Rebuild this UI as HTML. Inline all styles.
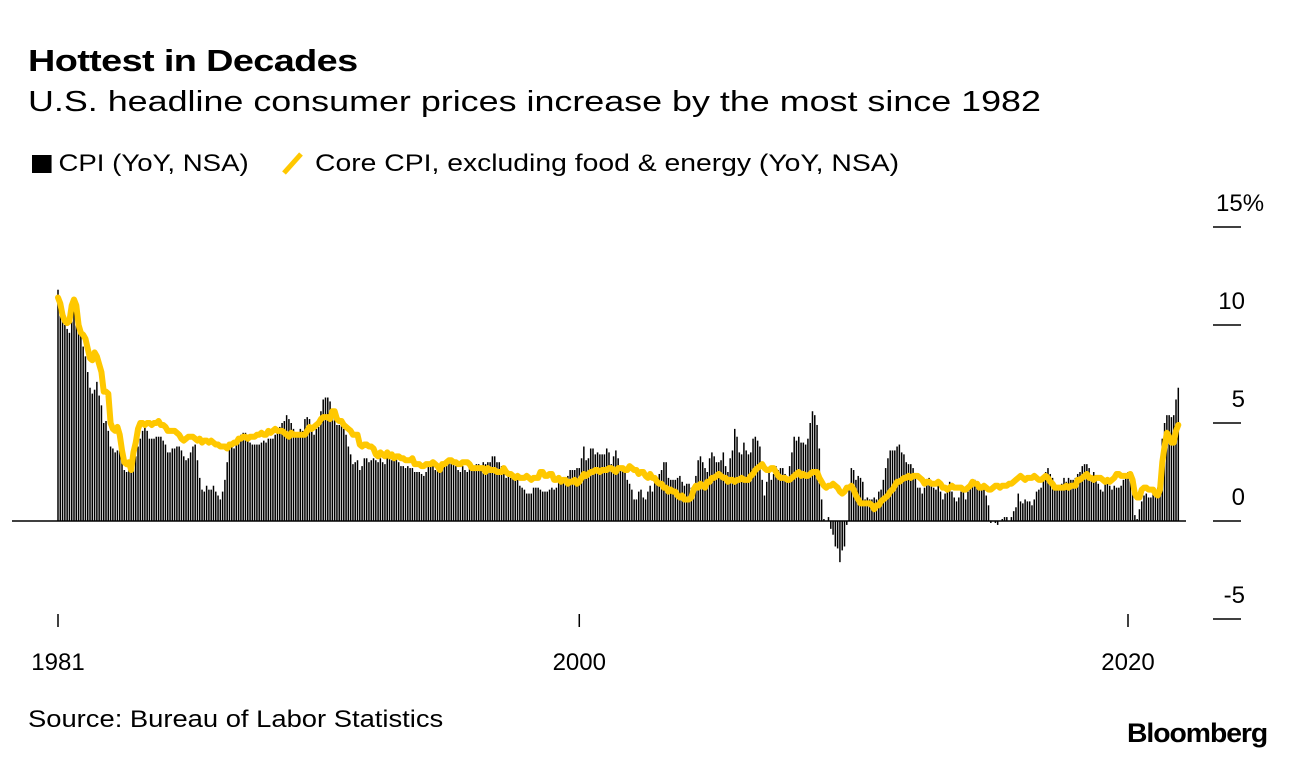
<!DOCTYPE html>
<html><head><meta charset="utf-8">
<style>
html,body{margin:0;padding:0;background:#fff;width:1296px;height:760px;overflow:hidden}
body{font-family:"Liberation Sans",Arial,sans-serif;color:#000;position:relative}
.t{position:absolute;white-space:nowrap;transform-origin:0 0}
</style></head>
<body>
<div class="t" style="left:28px;top:43px;font-size:31px;font-weight:bold;letter-spacing:-0.5px;transform:scaleX(1.22)">Hottest in Decades</div>
<div class="t" style="left:28px;top:86px;font-size:29px;transform:scaleX(1.237)">U.S. headline consumer prices increase by the most since 1982</div>
<div class="t" style="left:32px;top:150px;font-size:24px;transform:scaleX(1.15)"><span style="display:inline-block;width:17px;height:18px;background:#000;vertical-align:-2px;margin-right:6px"></span>CPI (YoY, NSA)</div>
<svg width="26" height="26" style="position:absolute;left:280px;top:150px"><line x1="4" y1="23" x2="21" y2="4" stroke="#ffc800" stroke-width="5"/></svg>
<div class="t" style="left:315px;top:150px;font-size:24px;transform:scaleX(1.18)">Core CPI, excluding food &amp; energy (YoY, NSA)</div>
<svg id="chart" width="1296" height="760" style="position:absolute;left:0;top:0"></svg>
<div class="t" style="left:28px;top:706px;font-size:24px;transform:scaleX(1.14)">Source: Bureau of Labor Statistics</div>
<div class="t" style="left:1127px;top:718px;font-size:27px;font-weight:bold;letter-spacing:-1px;transform:scaleX(1.05)">Bloomberg</div>
<script>
const startYear = 1981;
const cpiValues = [
11.8,11.4,10.5,10.0,9.8,9.6,10.8,10.8,11.0,10.1,9.6,8.9,
8.4,7.6,6.8,6.5,6.7,7.1,6.4,5.9,5.0,5.1,4.6,3.8,
3.7,3.5,3.6,3.9,3.5,2.6,2.5,2.6,2.9,2.9,3.3,3.8,
4.2,4.6,4.8,4.6,4.2,4.2,4.2,4.3,4.3,4.3,4.1,3.9,
3.5,3.5,3.7,3.7,3.8,3.8,3.6,3.3,3.1,3.2,3.5,3.8,
3.9,3.1,2.2,1.6,1.5,1.8,1.6,1.6,1.8,1.5,1.3,1.1,
1.5,2.1,3.0,3.8,3.9,3.7,3.9,4.3,4.4,4.5,4.5,4.4,
4.0,3.9,3.9,3.9,3.9,4.0,4.1,4.0,4.2,4.2,4.2,4.4,
4.7,4.8,5.0,5.1,5.4,5.2,5.0,4.7,4.3,4.5,4.7,4.6,
5.2,5.3,5.2,4.7,4.4,4.7,4.8,5.6,6.2,6.3,6.3,6.1,
5.7,5.3,4.9,4.9,5.0,4.7,4.4,3.8,3.4,2.9,3.0,3.1,
2.6,2.8,3.2,3.2,3.0,3.1,3.2,3.1,3.0,3.2,3.0,2.9,
3.3,3.2,3.1,3.2,3.2,3.0,2.8,2.8,2.7,2.8,2.7,2.7,
2.5,2.5,2.5,2.4,2.3,2.5,2.8,2.9,3.0,2.6,2.7,2.7,
2.8,2.9,2.9,3.1,3.2,3.0,2.8,2.6,2.5,2.8,2.6,2.5,
2.7,2.7,2.8,2.9,2.9,2.8,3.0,2.9,3.0,3.0,3.3,3.3,
3.0,3.0,2.8,2.5,2.2,2.3,2.2,2.2,2.2,2.1,1.8,1.7,
1.6,1.4,1.4,1.4,1.7,1.7,1.7,1.6,1.5,1.5,1.5,1.6,
1.7,1.6,1.7,2.3,2.1,2.0,2.1,2.3,2.6,2.6,2.6,2.7,
2.7,3.2,3.8,3.1,3.2,3.7,3.7,3.4,3.5,3.4,3.4,3.4,
3.7,3.5,2.9,3.3,3.6,3.2,2.7,2.7,2.6,2.1,1.9,1.6,
1.1,1.1,1.5,1.6,1.2,1.1,1.5,1.8,1.5,2.0,2.2,2.4,
2.6,3.0,3.0,2.2,2.1,2.1,2.1,2.2,2.3,2.0,1.8,1.9,
1.9,1.7,1.7,2.3,3.1,3.3,3.0,2.7,2.5,3.2,3.5,3.3,
3.0,3.0,3.1,3.5,2.8,2.5,3.2,3.6,4.7,4.3,3.5,3.4,
4.0,3.6,3.4,3.5,4.2,4.3,4.1,3.8,2.1,1.3,2.0,2.5,
2.1,2.4,2.8,2.6,2.7,2.7,2.4,2.0,2.8,3.5,4.3,4.1,
4.3,4.0,4.0,3.9,4.2,5.0,5.6,5.4,4.9,3.7,1.1,0.1,
0.0,0.2,-0.4,-0.7,-1.3,-1.4,-2.1,-1.5,-1.3,-0.2,1.8,2.7,
2.6,2.1,2.3,2.2,2.0,1.1,1.2,1.1,1.1,1.2,1.1,1.5,
1.6,2.1,2.7,3.2,3.6,3.6,3.6,3.8,3.9,3.5,3.4,3.0,
2.9,2.9,2.7,2.3,1.7,1.7,1.4,1.7,2.0,2.2,1.8,1.7,
1.6,2.0,1.5,1.1,1.4,1.8,2.0,1.5,1.2,1.0,1.2,1.5,
1.6,1.1,1.5,2.0,2.1,2.1,2.0,1.7,1.7,1.7,1.3,0.8,
-0.1,0.0,-0.1,-0.2,0.0,0.1,0.2,0.2,0.0,0.2,0.5,0.7,
1.4,1.0,0.9,1.1,1.0,1.0,0.8,1.1,1.5,1.6,1.7,2.1,
2.5,2.7,2.4,2.2,1.9,1.6,1.7,1.9,2.2,2.0,2.2,2.1,
2.1,2.2,2.4,2.5,2.8,2.9,2.9,2.7,2.3,2.5,2.2,1.9,
1.6,1.5,1.9,2.0,1.8,1.6,1.8,1.7,1.7,1.8,2.1,2.3,
2.5,2.3,1.5,0.3,0.1,0.6,1.0,1.3,1.4,1.2,1.2,1.4,
1.4,1.7,2.6,4.2,5.0,5.4,5.4,5.3,5.4,6.2,6.8];
const coreValues = [
11.4,11.1,10.5,10.2,10.1,10.2,11.0,11.3,11.0,10.0,9.6,9.5,
9.3,8.8,8.3,8.2,8.6,8.4,8.0,7.6,6.6,6.6,6.5,5.0,
4.7,4.6,4.8,4.4,3.6,3.0,2.9,3.0,2.6,3.5,4.0,4.7,
5.0,5.0,4.9,5.0,5.0,4.9,5.0,5.0,5.1,4.9,4.9,4.8,
4.6,4.6,4.6,4.6,4.5,4.4,4.2,4.1,4.2,4.3,4.3,4.3,
4.2,4.1,4.2,4.0,4.1,4.1,4.0,4.1,4.0,3.9,3.9,3.8,
3.8,3.8,3.7,3.9,3.9,4.0,4.0,4.2,4.2,4.3,4.3,4.2,
4.3,4.3,4.3,4.4,4.4,4.5,4.4,4.4,4.6,4.5,4.6,4.7,
4.6,4.6,4.6,4.5,4.4,4.3,4.5,4.4,4.4,4.4,4.4,4.4,
4.4,4.6,4.8,4.7,4.8,4.9,5.0,5.2,5.3,5.3,5.3,5.2,
5.6,5.6,5.2,5.1,5.1,4.9,4.8,4.7,4.6,4.4,4.4,4.4,
3.9,3.8,3.9,3.9,3.8,3.8,3.7,3.4,3.3,3.5,3.4,3.3,
3.5,3.3,3.4,3.2,3.3,3.3,3.2,3.2,3.1,3.1,3.1,3.2,
2.9,2.9,2.9,2.8,2.8,2.9,2.9,2.9,3.0,2.9,2.8,2.6,
2.9,2.9,3.0,3.1,3.1,3.0,3.0,2.9,2.9,3.0,3.0,3.0,
2.9,2.7,2.7,2.7,2.7,2.7,2.7,2.5,2.7,2.6,2.6,2.6,
2.5,2.5,2.5,2.7,2.5,2.4,2.4,2.3,2.2,2.3,2.2,2.2,
2.2,2.3,2.2,2.1,2.2,2.2,2.2,2.5,2.5,2.3,2.3,2.4,
2.4,2.1,2.1,2.2,2.0,2.1,2.1,1.9,2.0,2.0,2.1,1.9,
2.0,2.2,2.4,2.3,2.4,2.5,2.5,2.6,2.6,2.5,2.6,2.6,
2.6,2.7,2.7,2.6,2.5,2.7,2.7,2.7,2.6,2.6,2.8,2.7,
2.6,2.6,2.4,2.5,2.5,2.3,2.2,2.4,2.2,2.2,2.0,1.9,
1.9,1.7,1.7,1.5,1.6,1.5,1.5,1.3,1.2,1.3,1.1,1.1,
1.1,1.2,1.6,1.8,1.7,1.9,1.8,1.7,2.0,2.0,2.2,2.2,
2.3,2.4,2.3,2.2,2.2,2.0,2.1,2.1,2.0,2.1,2.1,2.2,
2.1,2.1,2.1,2.3,2.4,2.6,2.7,2.8,2.9,2.7,2.6,2.6,
2.7,2.7,2.5,2.3,2.2,2.2,2.2,2.1,2.1,2.2,2.3,2.4,
2.5,2.3,2.4,2.3,2.3,2.4,2.5,2.5,2.5,2.2,2.0,1.8,
1.7,1.8,1.8,1.9,1.8,1.7,1.5,1.4,1.5,1.7,1.7,1.8,
1.6,1.3,1.1,0.9,0.9,0.9,0.9,0.9,0.8,0.6,0.8,0.8,
1.0,1.1,1.2,1.3,1.5,1.6,1.8,2.0,2.0,2.1,2.2,2.2,
2.3,2.2,2.3,2.3,2.3,2.2,2.1,1.9,2.0,2.0,1.9,1.9,
1.9,2.0,1.9,1.7,1.7,1.6,1.7,1.8,1.7,1.7,1.7,1.7,
1.6,1.6,1.7,1.8,2.0,1.9,1.9,1.7,1.7,1.8,1.7,1.6,
1.6,1.7,1.8,1.8,1.7,1.8,1.8,1.8,1.9,1.9,2.0,2.1,
2.2,2.3,2.2,2.1,2.2,2.2,2.2,2.3,2.2,2.1,2.1,2.2,
2.3,2.2,2.0,1.9,1.7,1.7,1.7,1.7,1.7,1.8,1.7,1.8,
1.8,1.8,2.1,2.1,2.2,2.3,2.4,2.2,2.2,2.1,2.2,2.2,
2.2,2.1,2.0,2.1,2.0,2.1,2.2,2.4,2.4,2.3,2.3,2.3,
2.3,2.4,2.1,1.4,1.2,1.2,1.6,1.7,1.7,1.6,1.6,1.6,
1.4,1.3,1.6,3.0,3.8,4.5,4.3,4.0,4.0,4.6,4.9];
const yTicks = [15,10,5,0,-5];
const yTickLabels = ["15%","10","5","0","-5"];
const xTickYears = [1981,2000,2020];

const svg = document.getElementById('chart');
const NS = 'http://www.w3.org/2000/svg';
function xScale(monthIndex){ return 58 + monthIndex * (1070/468); }
function yScale(v){ return 521 - v * 19.6; }
function mk(tag, attrs){ const e=document.createElementNS(NS,tag); for(const k in attrs) e.setAttribute(k,attrs[k]); svg.appendChild(e); return e; }

cpiValues.forEach((v,i)=>{
  const x = xScale(i), y0 = yScale(0), y1 = yScale(v);
  const r = mk('rect',{x:(x-0.75).toFixed(2), y:Math.min(y0,y1).toFixed(2), width:1.5, height:Math.abs(y1-y0).toFixed(2), fill:'#000'});
  
  
});
const zl = mk('line',{x1:12,x2:1186,y1:yScale(0),y2:yScale(0),stroke:'#000','stroke-width':1.5});


const pts = coreValues.map((v,i)=>xScale(i).toFixed(2)+','+yScale(v).toFixed(2)).join(' ');
const pl = mk('polyline',{points:pts,fill:'none',stroke:'#ffc800','stroke-width':6,'stroke-linejoin':'round','stroke-linecap':'round'});


yTicks.forEach((t,i)=>{
  const y=yScale(t);
  const l=mk('line',{x1:1213,x2:1241,y1:y,y2:y,stroke:'#000','stroke-width':1.5});
  
  
  const tx=mk('text',{x:1245,y:y-16,'font-size':24,'text-anchor':'end','font-family':'Liberation Sans, sans-serif'});
  tx.textContent = yTickLabels[i];
  if(yTickLabels[i].includes('%')){ tx.setAttribute('text-anchor','start'); tx.setAttribute('x',1216); }
  
  
});
xTickYears.forEach(yr=>{
  const x=xScale((yr-startYear)*12);
  const l=mk('line',{x1:x,x2:x,y1:614,y2:627,stroke:'#000','stroke-width':1.5});
  
  
  const tx=mk('text',{x:x,y:670,'font-size':24,'text-anchor':'middle','font-family':'Liberation Sans, sans-serif'});
  tx.textContent=yr;
  
  
});
</script>
</body></html>
